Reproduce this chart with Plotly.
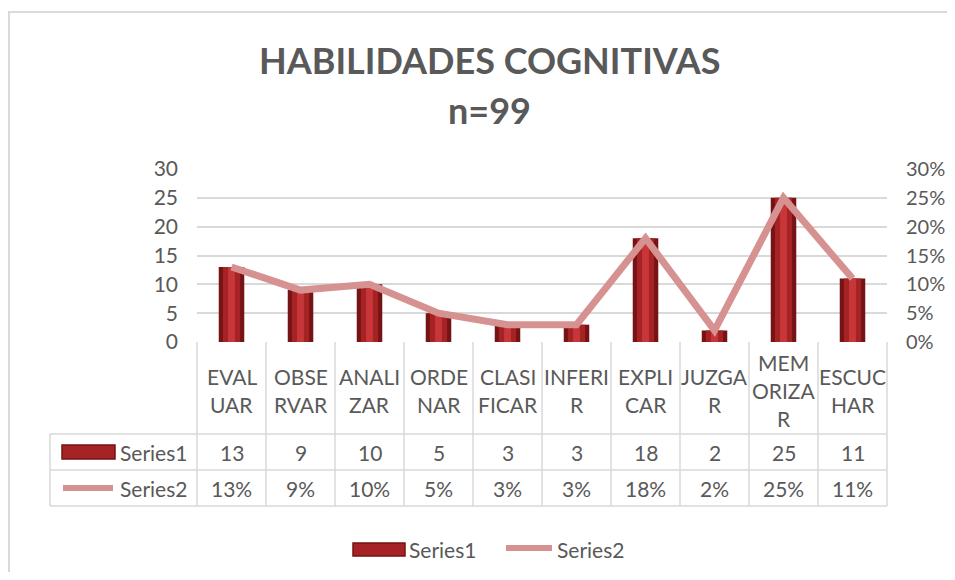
import plotly.graph_objects as go

# data
CATEGORIES = ["EVALUAR", "OBSERVAR", "ANALIZAR", "ORDENAR", "CLASIFICAR",
              "INFERIR", "EXPLICAR", "JUZGAR", "MEMORIZAR", "ESCUCHAR"]
# wrapped labels as they appear in the data table header
CAT_LABELS = ["EVAL<br>UAR", "OBSE<br>RVAR", "ANALI<br>ZAR", "ORDE<br>NAR", "CLASI<br>FICAR",
              "INFERI<br>R", "EXPLI<br>CAR", "JUZGA<br>R", "MEM<br>ORIZA<br>R", "ESCUC<br>HAR"]
SERIES1 = [13, 9, 10, 5, 3, 3, 18, 2, 25, 11]
SERIES2 = [0.13, 0.09, 0.10, 0.05, 0.03, 0.03, 0.18, 0.02, 0.25, 0.11]
LEFT_TICKS = [0, 5, 10, 15, 20, 25, 30]
RIGHT_TICKS = [0, 0.05, 0.10, 0.15, 0.20, 0.25, 0.30]

# page has an 8px body margin, so the figure is shrunk to fit without scrollbars
OFF = 8
W, H = 955 - 2 * OFF, 580 - 2 * OFF
ML, MT = 197 - OFF, 169 - OFF
MR = (W + OFF) - 887
MB = (H + OFF) - 342
PW, PH = W - ML - MR, H - MT - MB

FONT = "Lato"
FS = 21
TXT = "#595959"
GRID = "#d9d9d9"
BAR_DARK, BAR_MID, BAR_LIGHT = "#751315", "#a52225", "#c73638"
LINE_COL = "#d69291"


def px(p):
    # page pixel -> paper x
    return (p - OFF - ML) / PW


def py(p):
    # page pixel -> paper y
    return (H + OFF - MB - p) / PH


fig = go.Figure()

# cylinder-ish bars: overlaid layers of decreasing width
for width, col in [(0.37, BAR_DARK), (0.25, BAR_MID), (0.1, BAR_LIGHT)]:
    fig.add_trace(go.Bar(x=CATEGORIES, y=SERIES1, width=width, marker_color=col,
                         marker_line_width=0, showlegend=False, name="Series1"))

fig.add_trace(go.Scatter(x=CATEGORIES, y=SERIES2, yaxis="y2", mode="lines", name="Series2",
                         line=dict(color=LINE_COL, width=7), showlegend=False))

shapes = []
ann = []


def text(x, y, s, xref="paper", xanchor="center", size=FS):
    ann.append(dict(x=x, xref=xref, y=y, yref="paper", text=s, showarrow=False,
                    xanchor=xanchor, yanchor="middle",
                    font=dict(size=size, color=TXT, family=FONT)))


# data table grid
n = len(CATEGORIES)
for i in range(n + 1):
    shapes.append(dict(type="line", xref="paper", yref="paper", x0=i / n, x1=i / n,
                       y0=py(342), y1=py(506), line=dict(color=GRID, width=1.5)))
for yy in (434, 470, 506):
    shapes.append(dict(type="line", xref="paper", yref="paper", x0=px(50), x1=1,
                       y0=py(yy), y1=py(yy), line=dict(color=GRID, width=1.5)))
shapes.append(dict(type="line", xref="paper", yref="paper", x0=px(50), x1=px(50),
                   y0=py(434), y1=py(506), line=dict(color=GRID, width=1.5)))

# outer chart border
shapes.append(dict(type="rect", xref="paper", yref="paper", x0=px(9), x1=px(990),
                   y0=py(620), y1=py(12), line=dict(color=GRID, width=2)))

# header labels (one annotation per wrapped line for Excel-like spacing)
LH = 28
for cat, lab in zip(CATEGORIES, CAT_LABELS):
    parts = lab.split("<br>")
    top = 390 - LH * (len(parts) - 1) / 2
    for k, part in enumerate(parts):
        text(cat, py(top + k * LH), part, xref="x")

# value rows
for cat, v1, v2 in zip(CATEGORIES, SERIES1, SERIES2):
    text(cat, py(452), str(v1), xref="x")
    text(cat, py(488), f"{v2:.0%}", xref="x")

# row header keys
shapes.append(dict(type="rect", xref="paper", yref="paper", x0=px(62), x1=px(115),
                   y0=py(459), y1=py(445), fillcolor=BAR_MID, line=dict(color=BAR_DARK, width=1.5)))
shapes.append(dict(type="line", xref="paper", yref="paper", x0=px(63), x1=px(113),
                   y0=py(488), y1=py(488), line=dict(color=LINE_COL, width=6)))
text(px(118), py(452), "Series1", xanchor="left")
text(px(118), py(488), "Series2", xanchor="left")

# bottom legend
shapes.append(dict(type="rect", xref="paper", yref="paper", x0=px(353), x1=px(405),
                   y0=py(556), y1=py(543), fillcolor=BAR_MID, line=dict(color=BAR_DARK, width=1.5)))
shapes.append(dict(type="line", xref="paper", yref="paper", x0=px(506), x1=px(552),
                   y0=py(548), y1=py(548), line=dict(color=LINE_COL, width=6)))
text(px(407), py(549), "Series1", xanchor="left")
text(px(555), py(549), "Series2", xanchor="left")

# title
text(px(489), py(60), "<b>HABILIDADES COGNITIVAS</b>", size=36)
text(px(489), py(110), "<b>n=99</b>", size=36)

fig.update_layout(
    width=W, height=H,
    margin=dict(l=ML, r=MR, t=MT, b=MB, autoexpand=False),
    paper_bgcolor="white", plot_bgcolor="white",
    barmode="overlay",
    showlegend=False,
    font=dict(family=FONT, color=TXT, size=FS),
    xaxis=dict(showticklabels=False, showgrid=False, zeroline=False, showline=False,
               range=[-0.5, n - 0.5]),
    yaxis=dict(range=[0, 30], tickvals=LEFT_TICKS, showgrid=True, gridcolor=GRID, gridwidth=1.5,
               zeroline=False, showline=False, ticklabelstandoff=18,
               tickfont=dict(size=FS, color=TXT, family=FONT)),
    yaxis2=dict(range=[0, 0.30], tickvals=RIGHT_TICKS, tickformat=".0%", overlaying="y", side="right",
                showgrid=False, zeroline=False, showline=False, ticklabelstandoff=18,
                tickfont=dict(size=20, color=TXT, family=FONT)),
    shapes=shapes,
    annotations=ann,
)

fig.write_html("out.html")
